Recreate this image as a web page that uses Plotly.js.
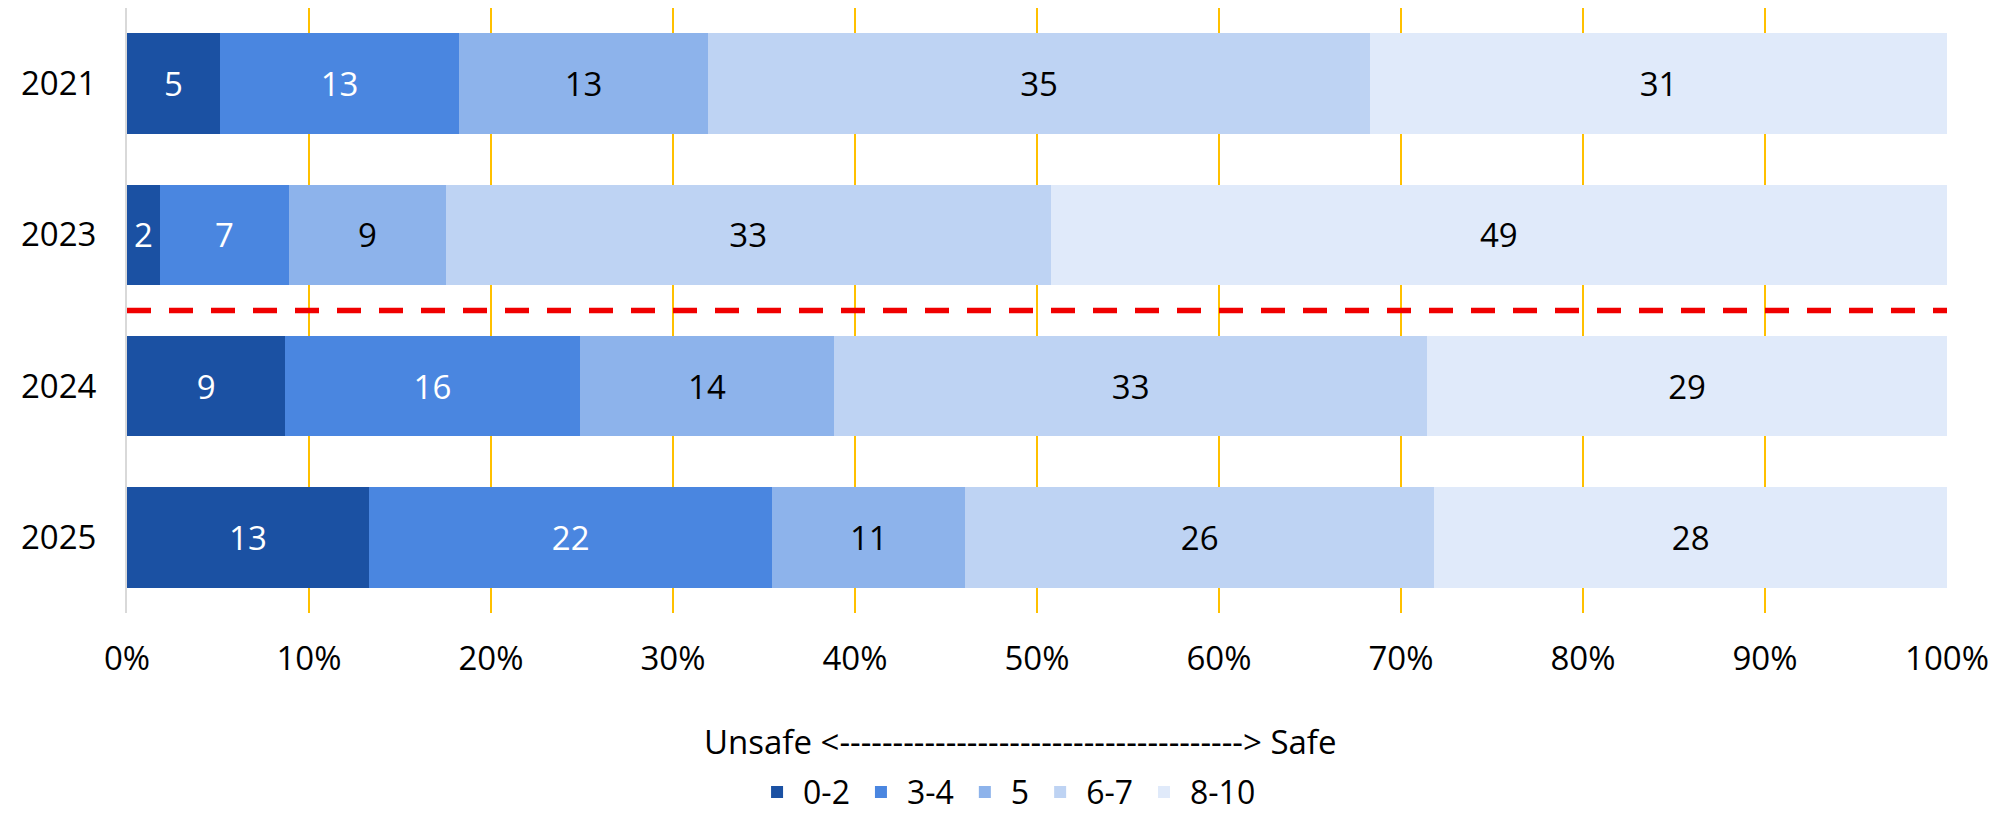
<!DOCTYPE html>
<html>
<head>
<meta charset="utf-8">
<script src="https://cdn.plot.ly/plotly-3.0.1.min.js"></script>
<style>
  html, body { margin: 0; padding: 0; background: #ffffff; }
  #chart { width: 2003px; height: 815px; }
</style>
</head>
<body>
<div id="chart"></div>
<script>
// Categories (years, top to bottom)
var years = ['2021', '2023', '2024', '2025'];

// Score bands (legend labels)
var bands = ['0-2', '3-4', '5', '6-7', '8-10'];

// Values per band, per year (shown as rounded labels, normalised to 100%)
var band02  = [4.96, 1.8, 8.7, 13.3];
var band34  = [12.74, 7.1, 16.2, 22.2];
var band5   = [13.27, 8.6, 14.0, 10.6];
var band67  = [35.29, 33.2, 32.6, 25.8];
var band810 = [30.75, 49.2, 28.6, 28.2];

// Tick labels of the value axis
var xTickVals = [0, 10, 20, 30, 40, 50, 60, 70, 80, 90, 100];
var xTickText = ['0%', '10%', '20%', '30%', '40%', '50%', '60%', '70%', '80%', '90%', '100%'];

var axisTitle = 'Unsafe <--------------------------------------> Safe';

var seriesValues = [band02, band34, band5, band67, band810];
var colors = ['#1B51A3', '#4A86E0', '#8DB3EB', '#BED3F3', '#E0EAFA'];
var labelColors = ['#FFFFFF', '#FFFFFF', '#000000', '#000000', '#000000'];

var FONT = '"Open Sans", "Noto Sans", sans-serif';
var FS = 33;

var traces = bands.map(function (name, i) {
  return {
    type: 'bar',
    orientation: 'h',
    name: name,
    y: years,
    x: seriesValues[i],
    text: seriesValues[i].map(function (v) { return String(Math.round(v)); }),
    texttemplate: '%{text}',
    textposition: 'inside',
    insidetextanchor: 'middle',
    constraintext: 'none',
    textangle: 0,
    insidetextfont: { family: FONT, size: FS, color: labelColors[i] },
    marker: { color: colors[i], line: { width: 0 } },
    hoverinfo: 'skip'
  };
});

var layout = {
  width: 2003,
  height: 815,
  margin: { l: 127, r: 56, t: 8, b: 202, pad: 0, autoexpand: false },
  paper_bgcolor: '#ffffff',
  plot_bgcolor: '#ffffff',
  font: { family: FONT, size: FS, color: '#000000' },
  barmode: 'stack',
  barnorm: 'percent',
  bargap: 0.335,
  showlegend: true,
  legend: {
    orientation: 'h',
    x: 0.483,
    xanchor: 'center',
    y: -0.296,
    yanchor: 'middle',
    traceorder: 'normal',
    itemwidth: 42,
    font: { family: FONT, size: 32, color: '#000000' },
    itemclick: false,
    bgcolor: 'rgba(0,0,0,0)'
  },
  xaxis: {
    range: [0, 100],
    tickvals: xTickVals,
    ticktext: xTickText,
    showgrid: true,
    gridcolor: '#FFC000',
    gridwidth: 2,
    zeroline: false,
    showline: false,
    ticks: '',
    ticklabelstandoff: 23,
    tickfont: { family: FONT, size: FS, color: '#000000' },
    fixedrange: true
  },
  yaxis: {
    type: 'category',
    categoryorder: 'array',
    categoryarray: years,
    autorange: 'reversed',
    showgrid: false,
    zeroline: false,
    showline: true,
    linecolor: '#D9D9D9',
    linewidth: 2,
    ticks: '',
    ticklabelstandoff: 22,
    tickfont: { family: FONT, size: FS, color: '#000000' },
    fixedrange: true
  },
  shapes: [{
    type: 'line',
    xref: 'x',
    yref: 'y',
    x0: 0,
    x1: 100,
    y0: 1.5,
    y1: 1.5,
    line: { color: '#F00000', width: 5.5, dash: '24px,18px' },
    layer: 'above'
  }],
  annotations: [{
    text: axisTitle,
    xref: 'paper',
    yref: 'paper',
    x: 0.4907,
    y: -0.213,
    xanchor: 'center',
    yanchor: 'middle',
    showarrow: false,
    font: { family: FONT, size: FS, color: '#000000' }
  }]
};

Plotly.newPlot('chart', traces, layout, { staticPlot: true, displayModeBar: false });
</script>
</body>
</html>
